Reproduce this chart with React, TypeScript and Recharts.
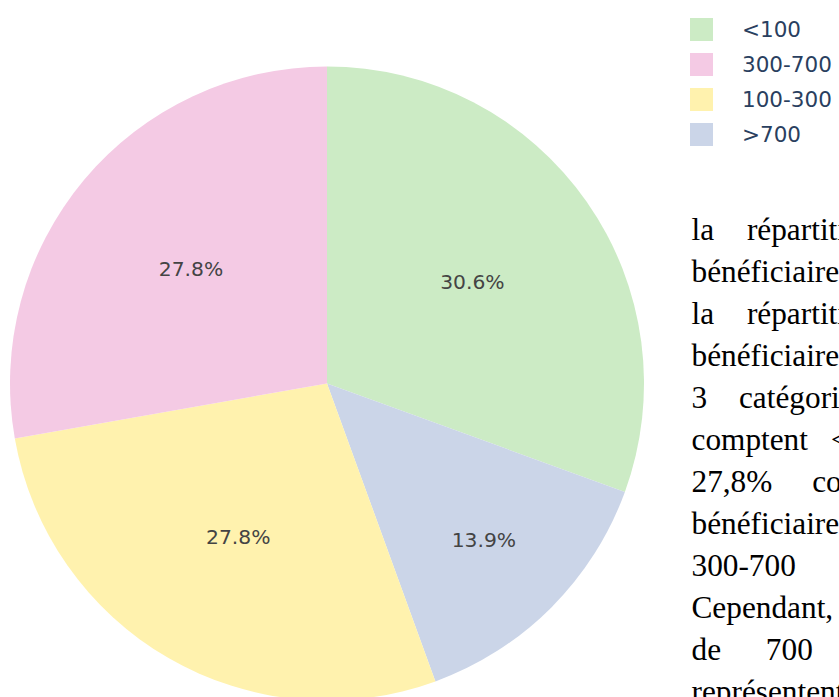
import React from "react";
import { PieChart, Pie, Cell } from "recharts";

const categories = ["<100", ">700", "100-300", "300-700"];
const counts = [11, 5, 10, 10];
const legendOrder = ["<100", "300-700", "100-300", ">700"];
const colorOf: Record<string, string> = {
  "<100": "#CCEBC5",
  ">700": "#CBD5E8",
  "100-300": "#FFF2AE",
  "300-700": "#F4CAE4",
};

const paragraphLines = [
  "la répartition des",
  "bénéficiaires selon",
  "la répartition des",
  "bénéficiaires selon",
  "3 catégories de",
  "comptent <100",
  "27,8% concernent",
  "bénéficiaires de",
  "300-700 bénéficiaires",
  "Cependant, les",
  "de 700 bénéficiaires",
  "représentent",
];
const lineWordSpacing = [25, 0, 25, 0, 24, 15, 32, 0, 40, 40, 37, 0];

const data = categories.map((name, i) => ({ name, value: counts[i] }));

const RAD = Math.PI / 180;

const renderLabel = (props: any) => {
  const { cx, cy, midAngle, outerRadius, percent } = props;
  const r = outerRadius * (percent < 0.2 ? 0.7 : 0.56);
  const x = cx + r * Math.cos(-midAngle * RAD);
  const y = cy + r * Math.sin(-midAngle * RAD);
  return (
    <text
      x={x}
      y={y}
      textAnchor="middle"
      dominantBaseline="central"
      fill="#444"
      style={{ fontFamily: "DejaVu Sans", fontSize: 20.3 }}
    >
      {(percent * 100).toFixed(1) + "%"}
    </text>
  );
};

export default function App() {
  return (
    <div
      style={{
        position: "fixed",
        left: 0,
        top: 0,
        width: 839,
        height: 697,
        overflow: "hidden",
        background: "#fff",
      }}
    >
      <PieChart
        width={680}
        height={697}
        margin={{ top: 0, right: 0, bottom: 0, left: 0 }}
      >
        <Pie
          data={data}
          dataKey="value"
          nameKey="name"
          cx={327}
          cy={383.5}
          outerRadius={317}
          startAngle={90}
          endAngle={-270}
          stroke="none"
          label={renderLabel}
          labelLine={false}
          isAnimationActive={false}
        >
          {data.map((d) => (
            <Cell key={d.name} fill={colorOf[d.name]} />
          ))}
        </Pie>
      </PieChart>
      <div
        style={{
          position: "absolute",
          left: 690,
          top: 12,
          fontFamily: "DejaVu Sans",
          fontSize: 21.5,
          color: "#2a3f5f",
        }}
      >
        {legendOrder.map((name) => (
          <div
            key={name}
            style={{ display: "flex", alignItems: "center", height: 35 }}
          >
            <div
              style={{
                width: 23,
                height: 23,
                background: colorOf[name],
                marginRight: 29,
              }}
            />
            <span style={{ whiteSpace: "nowrap" }}>{name}</span>
          </div>
        ))}
      </div>
      <div
        style={{
          position: "absolute",
          left: 691.5,
          top: 208.5,
          width: 500,
          fontFamily: "Liberation Serif",
          fontSize: 31.3,
          lineHeight: "42px",
          color: "#000",
        }}
      >
        {paragraphLines.map((t, i) => (
          <div
            key={i}
            style={{ whiteSpace: "nowrap", wordSpacing: lineWordSpacing[i] }}
          >
            {t}
          </div>
        ))}
      </div>
    </div>
  );
}
